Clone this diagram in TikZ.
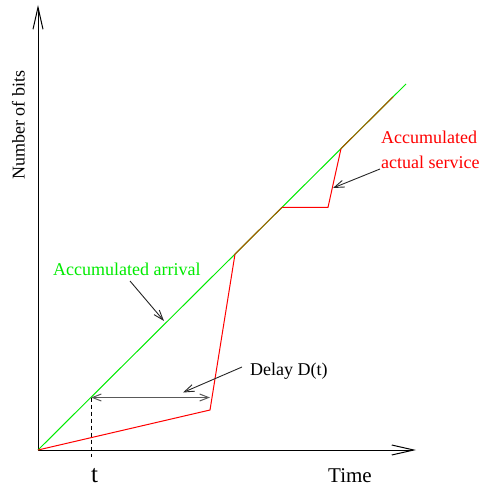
\documentclass[tikz,border=0pt]{standalone}
\usepackage{fontspec}
\setmainfont{Liberation Serif}
\usetikzlibrary{arrows.meta}
\definecolor{arrivalgreen}{rgb}{0,0.92,0}
\definecolor{servicered}{rgb}{1,0,0}
\definecolor{overlap}{RGB}{176,76,0}
\tikzset{
  axis/.style={line width=1pt,-{Straight Barb[length=22pt,width=10pt,line width=1pt]}},
  pointer/.style={line width=0.9pt,black!85,-{Straight Barb[length=10pt,width=7pt,line width=0.9pt]}},
  span/.style={line width=1.2pt,black!65,{Straight Barb[length=9pt,width=7pt,line width=1pt]}-{Straight Barb[length=9pt,width=7pt,line width=1pt]}},
  curve/.style={line width=1pt,line join=miter},
  lbl/.style={inner sep=0pt,anchor=base west,font=\fontsize{18}{20}\selectfont}
}
\begin{document}
\begin{tikzpicture}[x=1pt,y=-1pt]
\useasboundingbox (0,0) rectangle (480,489);

% axes
\coordinate (O) at (38,450);
\coordinate (ytop) at (38,5);
\coordinate (xend) at (416,450);
\draw[axis] (O) -- (ytop);
\draw[axis] (O) -- (xend);

% break points of the two cumulative curves
\coordinate (a1) at (406,84);
\coordinate (s1) at (210,410);
\coordinate (s2) at (235,254.07);
\coordinate (s3) at (282,207.32);
\coordinate (s4) at (328,207.32);
\coordinate (s5) at (341,148.64);
\coordinate (s6) at (393,96.92);

% accumulated arrival
\draw[curve,arrivalgreen] (O) -- (a1);
% accumulated actual service
\draw[curve,servicered] (O) -- (s1) -- (s2);
\draw[curve,servicered] (s3) -- (s4) -- (s5);
\draw[curve,overlap] (s2) -- (s3);
\draw[curve,overlap] (s5) -- (s6);

% delay at time t
\coordinate (ta) at (91,397.5);
\coordinate (tb) at (210,397.5);
\coordinate (tbot) at (91,457);
\draw[line width=1pt,dash pattern=on 4pt off 3pt] (ta) -- (tbot);
\draw[span] (ta) -- (tb);

% labels
\node[lbl,rotate=90] (ylab) at (24.5,180) {Number of bits};
\node[lbl,font=\fontsize{21}{23}\selectfont] (xlab) at (328,482) {Time};
\node[lbl,font=\fontsize{25}{27}\selectfont] (tlab) at (91,482) {t};
\node[lbl,text=arrivalgreen] (arr) at (53,275) {Accumulated arrival};
\node[lbl,text=servicered] (serv1) at (381,143) {Accumulated};
\node[lbl,text=servicered] (serv2) at (381,168) {actual service};
\node[lbl] (delay) at (250,375) {Delay D(t)};

% pointers from labels to curves
\coordinate (arrFrom) at (130,281);
\coordinate (arrTo) at (164,321);
\draw[pointer] (arrFrom) -- (arrTo);
\coordinate (servFrom) at (380,169);
\coordinate (servTo) at (333,188);
\draw[pointer] (servFrom) -- (servTo);
\coordinate (delFrom) at (242,367);
\coordinate (delTo) at (183,392.5);
\draw[pointer] (delFrom) -- (delTo);
\end{tikzpicture}
\end{document}
